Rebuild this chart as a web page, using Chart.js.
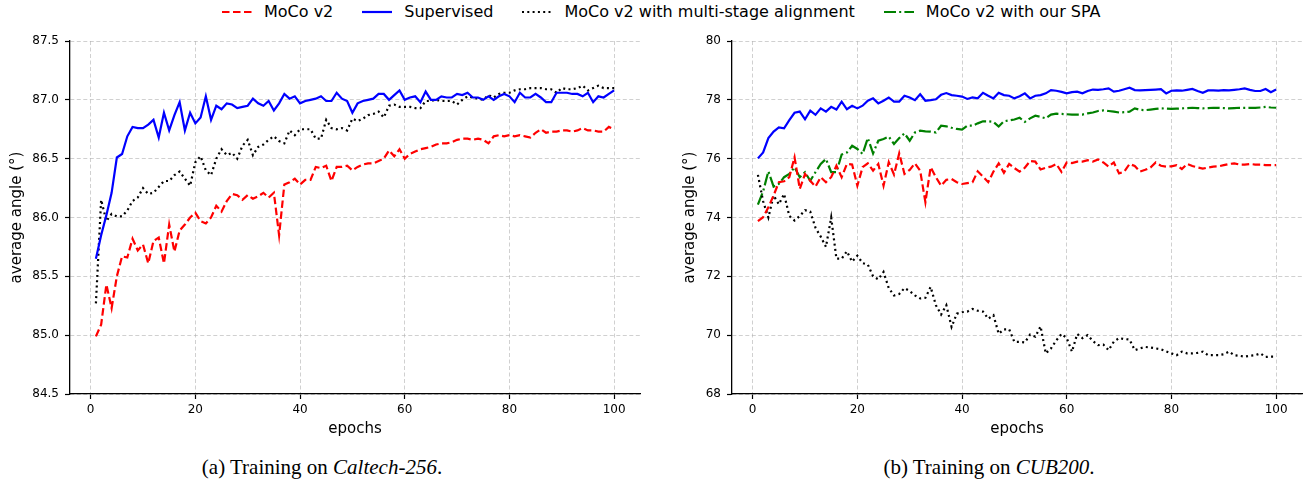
<!DOCTYPE html>
<html>
<head>
<meta charset="utf-8">
<script src="https://cdn.jsdelivr.net/npm/chart.js@4.4.0/dist/chart.umd.min.js"></script>
<style>
  body { margin: 0; background: #fff; width: 1304px; height: 482px; position: relative; overflow: hidden; font-family: "DejaVu Sans", sans-serif; }
  #legend { position: absolute; top: 3px; left: 222px; display: flex; align-items: center; font-size: 16px; line-height: 18px; white-space: nowrap; color: #000; }
  .item { display: flex; align-items: center; margin-right: 29px; }
  .item svg { margin-right: 12px; }
  .wrap { position: absolute; top: 0; width: 652px; height: 440px; }
  .cap { position: absolute; top: 455px; font-family: "Liberation Serif", "Times New Roman", serif; font-size: 21px; line-height: 24px; text-align: center; color: #000; }
</style>
</head>
<body>
<div id="legend"></div>
<div class="wrap" style="left:0"><canvas id="left"></canvas></div>
<div class="wrap" style="left:652px"><canvas id="right"></canvas></div>
<div class="cap" style="left:0;width:644px">(a) Training on <i>Caltech-256</i>.</div>
<div class="cap" style="left:689px;width:600px">(b) Training on <i>CUB200</i>.</div>
<script>
// epochs 1..100
const epochs = Array.from({ length: 100 }, (_, i) => i + 1);
const xTicks = [0, 20, 40, 60, 80, 100];

// (a) Caltech-256
const calSupervised = [
  85.65, 85.85, 86.02, 86.21, 86.51, 86.54, 86.69, 86.77, 86.76, 86.76,
  86.79, 86.83, 86.68, 86.89, 86.74, 86.87, 86.98, 86.74, 86.89, 86.80,
  86.85, 87.03, 86.83, 86.95, 86.92, 86.97, 86.96, 86.93, 86.94, 86.95,
  87.01, 86.97, 86.95, 86.99, 86.91, 86.97, 87.05, 87.01, 87.03, 86.97,
  86.99, 87.00, 87.01, 87.03, 86.99, 86.99, 87.06, 87.01, 86.99, 86.89,
  86.97, 86.99, 87.00, 87.01, 87.05, 87.05, 87.00, 87.04, 87.08, 87.00,
  87.02, 87.03, 86.98, 87.07, 87.00, 87.00, 87.03, 87.02, 87.02, 87.05,
  87.04, 87.06, 87.02, 87.02, 87.00, 87.03, 87.00, 87.03, 87.05, 87.03,
  86.98, 87.06, 87.02, 87.02, 87.05, 87.02, 86.98, 86.98, 87.06, 87.06,
  87.06, 87.05, 87.05, 87.03, 87.06, 86.98, 87.03, 87.02, 87.05, 87.08
];
const calMoco = [
  84.99, 85.09, 85.43, 85.23, 85.50, 85.67, 85.66, 85.82, 85.72, 85.77,
  85.61, 85.80, 85.83, 85.61, 85.94, 85.71, 85.89, 85.94, 86.00, 86.04,
  85.97, 85.95, 86.00, 86.10, 86.05, 86.14, 86.20, 86.19, 86.15, 86.19,
  86.16, 86.18, 86.21, 86.17, 86.21, 85.85, 86.28, 86.30, 86.33, 86.28,
  86.32, 86.32, 86.43, 86.42, 86.44, 86.31, 86.43, 86.43, 86.44, 86.40,
  86.43, 86.45, 86.46, 86.46, 86.48, 86.50, 86.57, 86.52, 86.58, 86.50,
  86.54, 86.56, 86.58, 86.59, 86.60, 86.62, 86.63, 86.63, 86.64, 86.66,
  86.67, 86.67, 86.66, 86.67, 86.66, 86.63, 86.69, 86.70, 86.69, 86.70,
  86.69, 86.70, 86.69, 86.68, 86.72, 86.75, 86.72, 86.73, 86.73, 86.74,
  86.74, 86.73, 86.74, 86.76, 86.74, 86.74, 86.73, 86.73, 86.77, 86.75
];
const calMulti = [
  85.27, 86.15, 85.97, 86.03, 86.01, 86.01, 86.06, 86.14, 86.17, 86.25,
  86.20, 86.21, 86.26, 86.31, 86.31, 86.36, 86.39, 86.33, 86.27, 86.47,
  86.52, 86.40, 86.36, 86.50, 86.58, 86.53, 86.55, 86.50, 86.61, 86.66,
  86.53, 86.60, 86.62, 86.66, 86.69, 86.65, 86.63, 86.74, 86.70, 86.75,
  86.75, 86.75, 86.67, 86.67, 86.83, 86.76, 86.75, 86.76, 86.74, 86.84,
  86.82, 86.84, 86.87, 86.88, 86.90, 86.85, 86.95, 86.96, 86.94, 86.94,
  86.94, 86.93, 86.93, 86.99, 86.99, 87.00, 86.99, 86.99, 86.99, 86.96,
  87.00, 87.03, 87.02, 87.01, 87.00, 87.04, 87.02, 87.05, 87.06, 87.06,
  87.08, 87.09, 87.09, 87.10, 87.10, 87.10, 87.09, 87.09, 87.06, 87.10,
  87.09, 87.09, 87.10, 87.12, 87.08, 87.10, 87.12, 87.10, 87.10, 87.10
];
const calYTicks = [84.5, 85.0, 85.5, 86.0, 86.5, 87.0, 87.5];

// (b) CUB200
const cubSupervised = [
  76.01, 76.21, 76.70, 76.92, 77.06, 77.03, 77.31, 77.56, 77.60, 77.34,
  77.63, 77.49, 77.71, 77.60, 77.76, 77.67, 77.94, 77.68, 77.80, 77.71,
  77.80, 77.97, 78.05, 77.88, 77.97, 78.08, 77.94, 77.94, 78.14, 78.08,
  77.99, 78.19, 77.97, 77.99, 78.02, 78.17, 78.23, 78.16, 78.14, 78.11,
  78.03, 78.08, 78.05, 78.24, 78.14, 78.05, 78.24, 78.16, 78.14, 78.05,
  78.12, 78.22, 78.05, 78.14, 78.16, 78.22, 78.33, 78.31, 78.27, 78.22,
  78.26, 78.28, 78.22, 78.30, 78.35, 78.34, 78.36, 78.39, 78.28, 78.31,
  78.36, 78.41, 78.33, 78.32, 78.33, 78.34, 78.35, 78.36, 78.22, 78.31,
  78.32, 78.31, 78.34, 78.37, 78.30, 78.24, 78.32, 78.32, 78.31, 78.33,
  78.32, 78.34, 78.36, 78.39, 78.34, 78.30, 78.30, 78.37, 78.26, 78.35
];
const cubMoco = [
  73.88, 74.01, 74.35, 74.75, 75.20, 75.23, 75.37, 76.05, 74.97, 75.48,
  75.25, 75.05, 75.37, 75.20, 75.37, 75.76, 75.37, 75.82, 75.80, 75.08,
  75.71, 75.84, 75.59, 75.82, 75.08, 75.88, 75.46, 76.18, 75.48, 75.62,
  75.84, 75.59, 74.52, 75.71, 75.37, 75.08, 75.28, 75.31, 75.20, 75.14,
  75.17, 75.20, 75.57, 75.39, 75.20, 75.56, 75.84, 75.52, 75.82, 75.68,
  75.56, 75.69, 75.92, 75.90, 75.63, 75.69, 75.73, 75.82, 75.55, 75.87,
  75.85, 75.90, 75.90, 75.95, 75.90, 75.97, 75.87, 75.73, 75.87, 75.50,
  75.56, 75.82, 75.75, 75.56, 75.62, 75.70, 75.87, 75.76, 75.73, 75.74,
  75.78, 75.65, 75.82, 75.75, 75.70, 75.66, 75.70, 75.73, 75.74, 75.78,
  75.82, 75.84, 75.80, 75.80, 75.82, 75.80, 75.80, 75.78, 75.78, 75.78
];
const cubMulti = [
  75.45, 74.55, 74.00, 74.75, 74.45, 74.80, 74.05, 73.90, 74.05, 74.25,
  74.20, 73.65, 73.35, 73.00, 74.00, 72.60, 72.60, 72.85, 72.50, 72.70,
  72.45, 72.40, 72.00, 71.90, 72.15, 71.60, 71.35, 71.40, 71.60, 71.50,
  71.35, 71.25, 71.27, 71.64, 71.02, 70.70, 71.02, 70.28, 70.73, 70.78,
  70.80, 70.89, 70.83, 70.80, 70.56, 70.68, 70.05, 70.20, 70.20, 69.77,
  69.77, 69.75, 70.02, 69.95, 70.30, 69.38, 69.55, 69.82, 70.04, 69.90,
  69.44, 70.04, 69.90, 70.00, 69.80, 69.66, 69.68, 69.49, 69.78, 69.90,
  69.87, 69.85, 69.49, 69.55, 69.60, 69.58, 69.55, 69.52, 69.45, 69.38,
  69.32, 69.44, 69.38, 69.38, 69.40, 69.44, 69.32, 69.32, 69.32, 69.35,
  69.44, 69.32, 69.30, 69.27, 69.30, 69.32, 69.38, 69.26, 69.27, 69.27
];
const cubSpa = [
  74.44, 74.89, 75.57, 75.05, 75.14, 75.37, 75.48, 75.71, 75.37, 75.54,
  75.25, 75.54, 75.82, 75.99, 75.54, 75.54, 76.14, 76.21, 76.44, 76.33,
  76.16, 76.70, 76.18, 76.61, 76.67, 76.75, 76.50, 76.70, 76.86, 76.61,
  76.89, 76.95, 76.93, 76.92, 76.89, 77.12, 77.10, 77.05, 77.01, 76.99,
  77.12, 77.12, 77.20, 77.27, 77.27, 77.25, 77.09, 77.27, 77.30, 77.33,
  77.39, 77.25, 77.37, 77.46, 77.42, 77.37, 77.50, 77.53, 77.52, 77.51,
  77.50, 77.50, 77.50, 77.54, 77.57, 77.62, 77.64, 77.62, 77.60, 77.57,
  77.58, 77.60, 77.71, 77.66, 77.65, 77.67, 77.69, 77.71, 77.70, 77.69,
  77.70, 77.71, 77.72, 77.73, 77.72, 77.71, 77.72, 77.73, 77.73, 77.72,
  77.71, 77.72, 77.73, 77.73, 77.73, 77.73, 77.74, 77.76, 77.74, 77.73
];
const cubYTicks = [68, 70, 72, 74, 76, 78, 80];

// series look, shared by legend and charts
const styles = {
  moco:  { label: "MoCo v2", color: "#ff0000", dash: [7.5, 3.5] },
  sup:   { label: "Supervised", color: "#0000ff", dash: [] },
  multi: { label: "MoCo v2 with multi-stage alignment", color: "#000000", dash: [2, 3.3] },
  spa:   { label: "MoCo v2 with our SPA", color: "#008000", dash: [12, 3.2, 2, 3.2] }
};

// legend
const legend = document.getElementById("legend");
["moco", "sup", "multi", "spa"].forEach(k => {
  const s = styles[k];
  const item = document.createElement("div");
  item.className = "item";
  item.innerHTML = `<svg width="30" height="6"><line x1="0" y1="3" x2="30" y2="3" stroke="${s.color}" stroke-width="2.2" stroke-dasharray="${s.dash.join(" ")}"/></svg><span>${s.label}</span>`;
  legend.appendChild(item);
});

function series(key, vals) {
  const s = styles[key];
  return {
    label: s.label,
    data: epochs.map((e, i) => ({ x: e, y: vals[i] })),
    borderColor: s.color,
    borderDash: s.dash,
    borderWidth: 2.2,
    pointRadius: 0,
    tension: 0,
    fill: false
  };
}

const gridColor = "rgba(176,176,176,0.6)";
const tickFont = { family: "DejaVu Sans", size: 12 };
const titleFont = { family: "DejaVu Sans", size: 15 };

function draw(id, datasets, yMin, yMax, yTicks, fmt, pad, yWidth) {
  new Chart(document.getElementById(id), {
    type: "line",
    data: { datasets },
    options: {
      animation: false,
      responsive: true,
      maintainAspectRatio: false,
      layout: { padding: pad },
      plugins: { legend: { display: false }, tooltip: { enabled: false } },
      scales: {
        x: {
          type: "linear",
          min: -3.95,
          max: 104.95,
          afterBuildTicks: s => { s.ticks = xTicks.map(v => ({ value: v })); },
          afterFit: s => { s.height = 44; },
          ticks: { font: tickFont, color: "#000", padding: 4, maxRotation: 0, callback: v => v },
          grid: { color: gridColor, lineWidth: 1, tickColor: "#000", tickLength: 5, tickWidth: 1.2 },
          border: { display: true, color: "#000", width: 1.3, dash: [4, 2.5] },
          title: { display: true, text: "epochs", font: titleFont, color: "#000", padding: 0 }
        },
        y: {
          min: yMin,
          max: yMax,
          afterBuildTicks: s => { s.ticks = yTicks.map(v => ({ value: v })); },
          afterFit: s => { s.width = yWidth; },
          ticks: { font: tickFont, color: "#000", padding: 6, callback: fmt },
          grid: { color: gridColor, lineWidth: 1, tickColor: "#000", tickLength: 5, tickWidth: 1.2 },
          border: { display: true, color: "#000", width: 1.3, dash: [4, 2.5] },
          title: { display: true, text: "average angle (°)", font: titleFont, color: "#000", padding: 0 }
        }
      }
    }
  });
}

draw("left",
  [series("moco", calMoco), series("sup", calSupervised), series("multi", calMulti)],
  84.5, 87.5, calYTicks, v => v.toFixed(1),
  { left: 8, right: 12, top: 41, bottom: 2 }, 62);

draw("right",
  [series("moco", cubMoco), series("sup", cubSupervised), series("multi", cubMulti), series("spa", cubSpa)],
  68, 80, cubYTicks, v => v,
  { left: 29, right: 2, top: 41, bottom: 2 }, 51);
</script>
</body>
</html>
